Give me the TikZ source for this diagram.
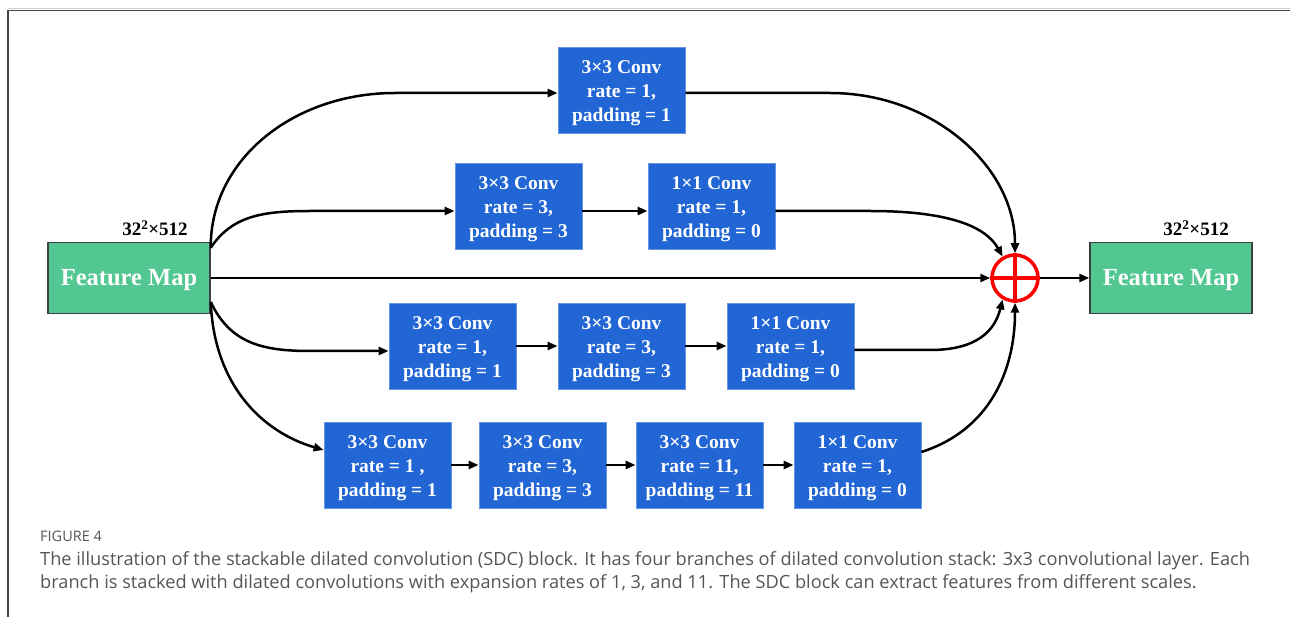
\documentclass[tikz,border=0pt]{standalone}
\usepackage{fontspec}
\setmainfont{Liberation Serif}
\newfontfamily\capfont{Open Sans}
\usetikzlibrary{arrows.meta}
\definecolor{boxblue}{RGB}{33,102,212}
\definecolor{boxedge}{RGB}{100,150,225}
\definecolor{fmgreen}{RGB}{82,199,145}
\definecolor{fmedge}{RGB}{64,64,64}
\definecolor{capgray}{RGB}{85,85,85}
\definecolor{framegray}{RGB}{70,70,70}
\tikzset{
  conv/.style={draw=boxedge, line width=0.8pt, fill=boxblue, text=white, minimum width=127pt, minimum height=86pt, inner sep=0pt, align=center, font=\fontsize{19.5}{24}\selectfont\bfseries},
  fmap/.style={draw=fmedge, line width=1.5pt, fill=fmgreen, text=white, minimum width=162pt, minimum height=71pt, inner sep=0pt, text height=16pt, text depth=0pt, font=\fontsize{24.5}{28}\selectfont\bfseries},
  dimlbl/.style={font=\fontsize{19}{22}\selectfont\bfseries, inner sep=0pt},
  conn/.style={line width=2.5pt, black, -{Triangle[length=10pt,width=8pt]}},
  adder/.style={circle, draw=red, line width=3.5pt, minimum size=46pt, inner sep=0pt},
}
\newcommand{\cvtext}[3]{\rule{0pt}{20pt}#1\\#2\\#3}
\begin{document}
\begin{tikzpicture}[x=1pt,y=-1pt]
\useasboundingbox (0,0) rectangle (1290,617);
\draw[black!20, line width=1pt] (8,8.5) -- (1290,8.5);
\draw[framegray, line width=1.5pt] (1290,10.5) -- (8,10.5) -- (8,617);

\node[fmap] (FM1) at (129,278) {Feature Map};
\node[fmap] (FM2) at (1171,278) {Feature Map};
\node[dimlbl] (L1) at (155,228) {32\textsuperscript{2}×512};
\node[dimlbl] (L2) at (1196,228) {32\textsuperscript{2}×512};
\node[adder] (P) at (1015,278) {};
\draw[red, line width=3.5pt] (P.north) -- (P.south) (P.west) -- (P.east);

\node[conv] (T) at (621.5,90) {\cvtext{3×3 Conv}{rate = 1,}{padding = 1}};

\node[conv] (A1) at (518.5,206) {\cvtext{3×3 Conv}{rate = 3,}{padding = 3}};
\node[conv] (A2) at (711.5,206) {\cvtext{1×1 Conv}{rate = 1,}{padding = 0}};

\node[conv] (B1) at (452.5,346) {\cvtext{3×3 Conv}{rate = 1,}{padding = 1}};
\node[conv] (B2) at (621.5,346) {\cvtext{3×3 Conv}{rate = 3,}{padding = 3}};
\node[conv] (B3) at (790.5,346) {\cvtext{1×1 Conv}{rate = 1,}{padding = 0}};

\node[conv] (C1) at (387.5,465) {\cvtext{3×3 Conv}{rate = 1 ,}{padding = 1}};
\node[conv] (C2) at (542.5,465) {\cvtext{3×3 Conv}{rate = 3,}{padding = 3}};
\node[conv] (C3) at (699.5,465) {\cvtext{3×3 Conv}{rate = 11,}{padding = 11}};
\node[conv] (C4) at (857.5,465) {\cvtext{1×1 Conv}{rate = 1,}{padding = 0}};

% start points on the input feature map
\coordinate (s1) at ([yshift=-6pt]FM1.north east);
\coordinate (s2) at ([yshift=-24pt]FM1.east);

% branch 1
\draw[conn] (s1) .. controls (210,160) and (293,93) .. (395,93) -- ([yshift=-3pt]T.west);
\draw[conn] ([yshift=-3pt]T.east) -- (830,93) .. controls (932,93) and (1015,166) .. (P.north);

% branch 2
\draw[conn] (s1) .. controls (232,216) and (262,211) .. (310,211) -- ([yshift=-5pt]A1.west);
\draw[conn] ([yshift=-5pt]A1.east) -- ([yshift=-5pt]A2.west);
\draw[conn] ([yshift=-5pt]A2.east) -- (870,211) .. controls (945,211) and (985,225) .. (P.120);

% centre
\draw[conn] (FM1.east) -- (P.west);
\draw[conn] (P.east) -- (FM2.west);

% branch 3
\draw[conn] (s2) .. controls (230,343) and (262,351) .. (310,351) -- ([yshift=-5pt]B1.west);
\draw[conn] (B1.east) -- (B2.west);
\draw[conn] (B2.east) -- (B3.west);
\draw[conn] ([yshift=-4pt]B3.east) -- (930,350) .. controls (978,350) and (995,330) .. (P.240);

% branch 4
\draw[conn] (s2) .. controls (214,385) and (262,432) .. ([yshift=15pt]C1.west);
\draw[conn] (C1.east) -- (C2.west);
\draw[conn] (C2.east) -- (C3.west);
\draw[conn] (C3.east) -- (C4.west);
\draw[conn] ([yshift=13pt]C4.east) .. controls (990,430) and (1015,370) .. (P.south);

% caption
\node[anchor=base west, inner sep=0pt, text=capgray, font=\capfont\fontsize{14.5}{16}\selectfont] (F4) at (40,541) {FIGURE 4};
\node[anchor=base west, inner sep=0pt, text=capgray, font=\capfont\fontsize{18.2}{23}\selectfont, align=left] (Cap) at (40,588) {The illustration of the stackable dilated convolution (SDC) block. It has four branches of dilated convolution stack: 3x3 convolutional layer. Each\\branch is stacked with dilated convolutions with expansion rates of 1, 3, and 11. The SDC block can extract features from different scales.};
\end{tikzpicture}
\end{document}
